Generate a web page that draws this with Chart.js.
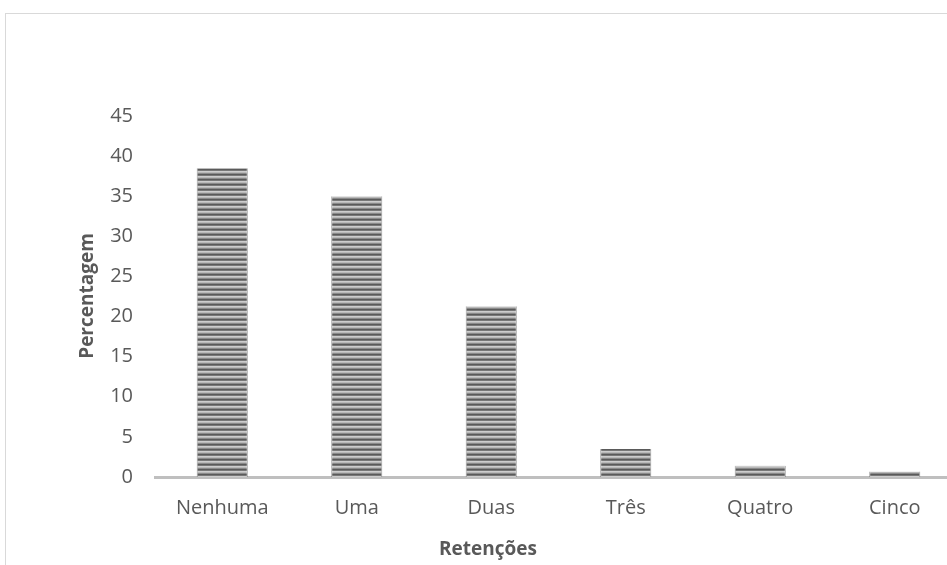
<!DOCTYPE html>
<html>
<head>
<meta charset="utf-8">
<script src="https://cdn.jsdelivr.net/npm/chart.js@4.4.0/dist/chart.umd.min.js"></script>
<style>
  html, body { margin: 0; padding: 0; background: #fff; overflow: hidden; }
  #frame {
    position: absolute; left: 5px; top: 13px;
    width: 990px; height: 620px;
    border: 1px solid #d9d9d9; overflow: hidden;
  }
</style>
</head>
<body>
<div id="frame"><canvas id="chart" width="980" height="600"></canvas></div>
<script>
// Categories (number of retentions)
const categories = ['Nenhuma', 'Uma', 'Duas', 'Três', 'Quatro', 'Cinco'];

// Percentage of students per category
const percentages = [38.5, 35.0, 21.3, 3.5, 1.4, 0.7];

// Axis titles
const xTitle = 'Retenções';
const yTitle = 'Percentagem';

const textColor = '#595959';

// Horizontal striped fill for the bars
function stripePattern() {
    const c = document.createElement('canvas');
    c.width = 4;
    c.height = 5;
    const g = c.getContext('2d');
    const rows = ['#5a5a5a', '#787878', '#cdcdcd', '#b8b8b8', '#8a8a8a'];
    rows.forEach((col, i) => {
        g.fillStyle = col;
        g.fillRect(0, i, 4, 1);
    });
    return g.createPattern(c, 'repeat');
}

const ctx = document.getElementById('chart').getContext('2d');

// Axis titles drawn relative to the chart area
const axisTitles = {
    id: 'axisTitles',
    afterDraw(chart) {
        const { ctx, chartArea } = chart;
        ctx.save();
        ctx.fillStyle = textColor;
        ctx.font = 'bold 19px "Open Sans"';
        ctx.textAlign = 'center';
        ctx.textBaseline = 'middle';
        ctx.fillText(xTitle, chartArea.left + 333, chartArea.bottom + 73);
        ctx.translate(chartArea.left - 67, chartArea.top + 180);
        ctx.rotate(-Math.PI / 2);
        ctx.fillText(yTitle, 0, 0);
        ctx.restore();
    }
};

new Chart(ctx, {
    type: 'bar',
    data: {
        labels: categories,
        datasets: [{
            data: percentages,
            backgroundColor: stripePattern(),
            borderColor: 'rgba(90, 90, 90, 0.6)',
            borderWidth: { left: 1, right: 1, top: 0, bottom: 0 },
            borderSkipped: false,
            categoryPercentage: 1,
            barPercentage: 0.38,
        }],
    },
    options: {
        responsive: false,
        animation: false,
        layout: { padding: { top: 102, right: 24, bottom: 0, left: 0 } },
        plugins: {
            legend: { display: false },
            tooltip: { enabled: false },
        },
        scales: {
            x: {
                grid: { display: false, drawTicks: false },
                border: { color: '#bfbfbf', width: 3 },
                ticks: {
                    color: textColor,
                    padding: 19,
                    font: { family: 'Open Sans', size: 20 },
                },
                afterFit: (s) => { s.height = 137; },
            },
            y: {
                min: 0,
                max: 45,
                grid: { display: false, drawTicks: false },
                border: { display: false },
                ticks: {
                    stepSize: 5,
                    color: textColor,
                    padding: 22,
                    font: { family: 'Open Sans', size: 20 },
                },
                afterFit: (s) => { s.width = 149; },
            },
        },
    },
    plugins: [axisTitles],
});
</script>
</body>
</html>
